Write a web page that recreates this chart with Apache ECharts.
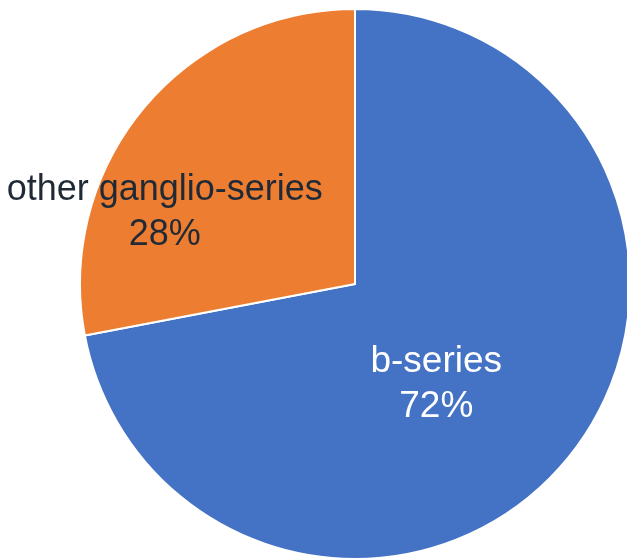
<!DOCTYPE html>
<html>
<head>
<meta charset="utf-8">
<style>
  html, body { margin: 0; padding: 0; background: #ffffff; }
  #chart { width: 627px; height: 559px; }
</style>
<script src="https://cdn.jsdelivr.net/npm/echarts@6/dist/echarts.min.js"></script>
</head>
<body>
<div id="chart"></div>
<script>
// Share of ganglioside series
const categories = ['b-series', 'other ganglio-series'];
const shares = [72, 28];
const sliceColors = ['#4472C4', '#ED7D31'];
const labelColors = ['#ffffff', '#1f2a36'];
const labelSizes = [37, 36];
// label nudges from the default inside position, per slice
const labelShift = [[-27, 11], [-82, 18]];

const chart = echarts.init(document.getElementById('chart'), null, { renderer: 'canvas' });

chart.setOption({
  backgroundColor: '#ffffff',
  animation: false,
  series: [{
    type: 'pie',
    center: [355, 284],
    radius: 275,
    startAngle: 90,
    clockwise: true,
    data: categories.map((name, i) => ({
      name: name,
      value: shares[i],
      itemStyle: { color: sliceColors[i] },
      label: { color: labelColors[i], fontSize: labelSizes[i] }
    })),
    itemStyle: { borderColor: '#ffffff', borderWidth: 2 },
    label: {
      show: true,
      position: 'inside',
      formatter: '{b}\n{d}%',
      fontFamily: 'Liberation Sans, Arial, sans-serif',
      fontSize: 36,
      lineHeight: 45,
      align: 'center'
    },
    labelLine: { show: false },
    labelLayout: function (params) {
      const s = labelShift[params.dataIndex];
      return { dx: s[0], dy: s[1] };
    },
    emphasis: { disabled: true }
  }]
});
</script>
</body>
</html>
